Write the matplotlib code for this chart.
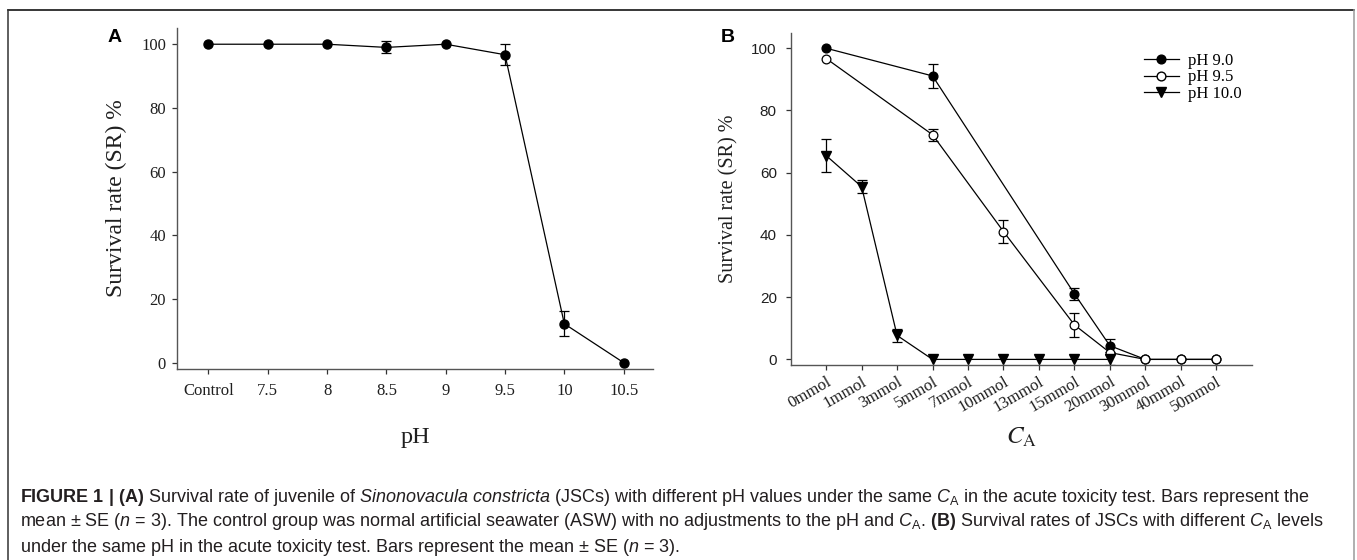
import matplotlib
matplotlib.use("Agg")
import matplotlib.pyplot as plt
from matplotlib.lines import Line2D
import numpy as np

# ---------------- data ----------------
ph_labels = ["Control", "7.5", "8", "8.5", "9", "9.5", "10", "10.5"]
ph_sr = [100, 100, 100, 99.0, 100, 96.7, 12.2, 0]
ph_se = [0, 0, 0, 1.9, 0, 3.3, 3.9, 0]

ca_labels = ["0mmol", "1mmol", "3mmol", "5mmol", "7mmol", "10mmol", "13mmol",
             "15mmol", "20mmol", "30mmol", "40mmol", "50mmol"]

ph90_idx = [0, 3, 7, 8, 9, 10, 11]
ph90_sr = [100, 91.1, 21.1, 4.4, 0, 0, 0]
ph90_se = [0, 3.8, 2.0, 2.0, 0, 0, 0]

ph95_idx = [0, 3, 5, 7, 8, 9, 10, 11]
ph95_sr = [96.7, 72.2, 41.1, 11.1, 2.2, 0, 0, 0]
ph95_se = [0, 1.9, 3.8, 3.8, 0, 0, 0, 0]

ph100_idx = [0, 1, 2, 3, 4, 5, 6, 7, 8]
ph100_sr = [65.5, 55.5, 7.7, 0, 0, 0, 0, 0, 0]
ph100_se = [5.2, 2.0, 2.0, 0, 0, 0, 0, 0, 1.8]

legend_labels = ["pH 9.0", "pH 9.5", "pH 10.0"]
yticks = [0, 20, 40, 60, 80, 100]

SERIF = "Liberation Serif"
SANS = "Liberation Sans"
plt.rcParams["font.family"] = [SANS, "DejaVu Sans"]
plt.rcParams["mathtext.fontset"] = "custom"
plt.rcParams["mathtext.rm"] = "Liberation Sans"
plt.rcParams["mathtext.it"] = "Liberation Sans:italic"
plt.rcParams["mathtext.bf"] = "Liberation Sans:bold"

W, H = 1357, 560
fig = plt.figure(figsize=(W / 100, H / 100), dpi=100)

spine_col = "#555555"
txt_col = "#1f1f1f"


def style_axes(ax):
    for s in ["top", "right"]:
        ax.spines[s].set_visible(False)
    for s in ["left", "bottom"]:
        ax.spines[s].set_color(spine_col)
        ax.spines[s].set_linewidth(1.0)
    ax.tick_params(axis="both", direction="out", length=3.5, width=0.9,
                   color="#333333")


def draw_series(ax, x, y, e, **kw):
    ax.plot(x, y, color="black", lw=0.9, zorder=3, **kw)
    x = np.asarray(x)
    y = np.asarray(y, dtype=float)
    e = np.asarray(e, dtype=float)
    m = e > 0
    ax.errorbar(x[m], y[m], yerr=e[m], fmt="none", ecolor="black",
                elinewidth=0.9, capsize=3.6, capthick=0.9, zorder=2)


# ---------------- panel A ----------------
axA = fig.add_axes([177 / W, 1 - 368.7 / H, 476.3 / W, 340.4 / H])
style_axes(axA)
xa = np.arange(len(ph_labels))
draw_series(axA, xa, ph_sr, ph_se, marker="o", ms=6.5, mfc="black", mec="black")
axA.set_xlim(-0.53, 7.5)
axA.set_ylim(-1.9, 105)
axA.set_xticks(xa)
axA.set_xticklabels(ph_labels, family=SERIF, fontsize=12, color=txt_col)
axA.set_yticks(yticks)
axA.set_yticklabels([str(v) for v in yticks], family=SERIF, fontsize=12,
                    color=txt_col)
axA.tick_params(axis="x", pad=6.5)
axA.tick_params(axis="y", pad=4.5)
axA.set_xlabel("pH", family=SERIF, fontsize=17.5, color=txt_col)
axA.xaxis.set_label_coords(0.5, (368.7 - 437) / 340.4)
axA.xaxis.label.set_va("center")
axA.set_ylabel("Survival rate (SR) %", family=SERIF, fontsize=17, color=txt_col)
axA.yaxis.set_label_coords((116 - 177) / 476.3, 0.5)
axA.yaxis.label.set_va("center")

# ---------------- panel B ----------------
axB = fig.add_axes([790.7 / W, 1 - 365 / H, 461 / W, 331.7 / H])
style_axes(axB)
draw_series(axB, ph90_idx, ph90_sr, ph90_se, marker="o", ms=6.3,
            mfc="black", mec="black")
draw_series(axB, ph95_idx, ph95_sr, ph95_se, marker="o", ms=6.3,
            mfc="white", mec="black", mew=0.9)
draw_series(axB, ph100_idx, ph100_sr, ph100_se, marker="v", ms=7,
            mfc="black", mec="black")
axB.set_xlim(-1, 12)
axB.set_ylim(-1.8, 104.8)
xb = np.arange(len(ca_labels))
axB.set_xticks(xb)
axB.set_xticklabels(ca_labels, family=SERIF, fontsize=12, color=txt_col,
                    rotation=30, ha="right", va="top", rotation_mode="anchor")
axB.tick_params(axis="x", pad=3)
axB.set_yticks(yticks)
axB.set_yticklabels([str(v) for v in yticks], family=SANS, fontsize=11,
                    color=txt_col)
axB.tick_params(axis="y", pad=6.5)
axB.set_ylabel("Survival rate (SR) %", family=SERIF, fontsize=14.5,
               color=txt_col)
axB.yaxis.set_label_coords((728.7 - 790.7) / 461, 0.5)
axB.yaxis.label.set_va("center")
axB.set_xlabel(r"$C_{\mathrm{A}}$", fontsize=18, color=txt_col,
               math_fontfamily="stix")
axB.xaxis.set_label_coords(0.5, (365 - 437) / 331.7)
axB.xaxis.label.set_va("center")

handles = [
    Line2D([], [], color="black", lw=0.9, marker="o", ms=6.3, mfc="black", mec="black"),
    Line2D([], [], color="black", lw=0.9, marker="o", ms=6.3, mfc="white", mec="black"),
    Line2D([], [], color="black", lw=0.9, marker="v", ms=7, mfc="black", mec="black"),
]
axB.legend(handles, legend_labels, loc="upper left",
           bbox_to_anchor=((1144 - 790.7) / 461, (365 - 52.5) / 331.7),
           frameon=False, borderpad=0, borderaxespad=0, handlelength=2.1,
           handletextpad=0.55, labelspacing=0.05,
           prop={"family": SERIF, "size": 12})

# panel letters
fig.text(115 / W, 1 - 37 / H, "A", fontsize=14, fontweight="bold",
         family=SANS, ha="center", va="center", color="black")
fig.text(728 / W, 1 - 38 / H, "B", fontsize=14, fontweight="bold",
         family=SANS, ha="center", va="center", color="black")

# frame
fig.add_artist(Line2D([7.5 / W, 1354 / W], [1 - 9.5 / H, 1 - 9.5 / H],
                      transform=fig.transFigure, color="black", lw=1.1))
fig.add_artist(Line2D([7.5 / W, 7.5 / W], [0, 1 - 9.5 / H],
                      transform=fig.transFigure, color="#333333", lw=1.1))
fig.add_artist(Line2D([1354 / W, 1354 / W], [0, 1 - 9.5 / H],
                      transform=fig.transFigure, color="#9a9a9a", lw=1.1))

# caption
cap_col = "#231f20"
cap_lines = [
    r"$\mathbf{FIGURE\ 1\ |\ (A)}$ Survival rate of juvenile of "
    r"$\mathit{Sinonovacula\ constricta}$ (JSCs) with different pH values under the same "
    r"$\mathit{C}_{\mathrm{A}}$ in the acute toxicity test. Bars represent the",
    r"mean ± SE ($\mathit{n}$ = 3). The control group was normal artificial seawater (ASW) "
    r"with no adjustments to the pH and $\mathit{C}_{\mathrm{A}}$. $\mathbf{(B)}$ Survival "
    r"rates of JSCs with different $\mathit{C}_{\mathrm{A}}$ levels",
    r"under the same pH in the acute toxicity test. Bars represent the mean ± SE "
    r"($\mathit{n}$ = 3).",
]
cap_y = [497, 522, 547]
for s, yy in zip(cap_lines, cap_y):
    fig.text(20 / W, 1 - yy / H, s, fontsize=13.0, family=SANS, color=cap_col,
             ha="left", va="center")

fig.savefig("out.png", dpi=100)
